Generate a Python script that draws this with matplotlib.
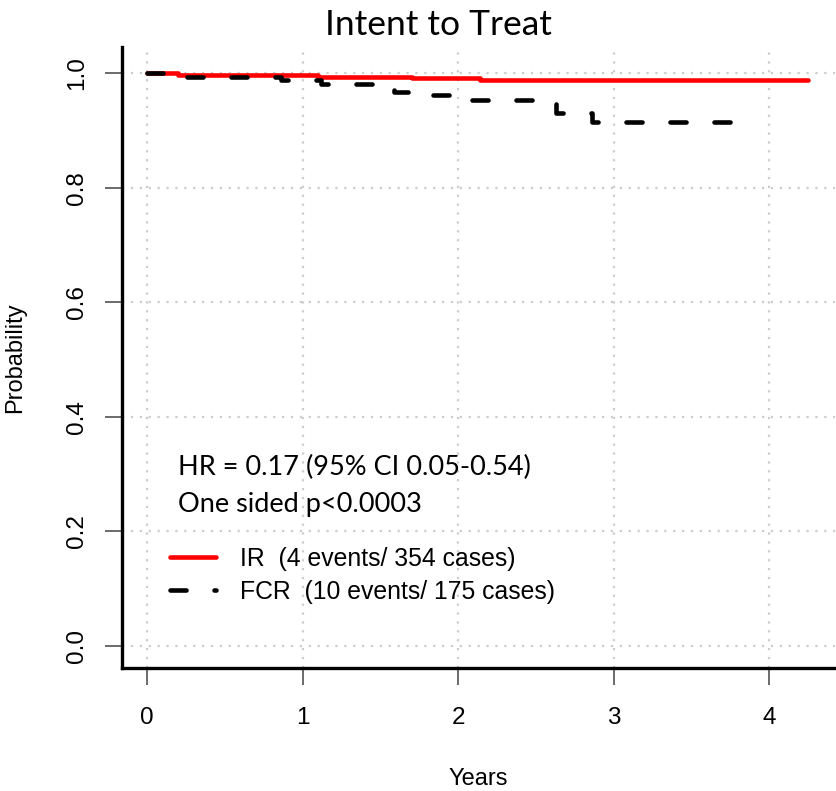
import matplotlib
matplotlib.use("Agg")
import matplotlib.pyplot as plt

# Kaplan-Meier step data
ir_time = [0, 0.20, 1.10, 1.70, 2.14, 4.25]
ir_surv = [1.0, 0.997, 0.994, 0.991, 0.988, 0.988]
fcr_time = [0, 0.19, 0.86, 1.12, 1.59, 1.70, 1.95, 2.63, 2.86, 3.93]
fcr_surv = [1.0, 0.994, 0.988, 0.981, 0.967, 0.963, 0.954, 0.930, 0.915, 0.915]

series_labels = ["IR  (4 events/ 354 cases)", "FCR  (10 events/ 175 cases)"]
x_ticks = [0, 1, 2, 3, 4]
y_ticks = [0.0, 0.2, 0.4, 0.6, 0.8, 1.0]
y_ticklabels = ["0.0", "0.2", "0.4", "0.6", "0.8", "1.0"]
stats_lines = ["HR = 0.17 (95% CI 0.05-0.54)", "One sided p<0.0003"]

plt.rcParams['font.family'] = ['Liberation Sans', 'DejaVu Sans']

fig = plt.figure(figsize=(8.36, 7.91), dpi=100)
ax = fig.add_axes([0.1459, 0.1555, 0.853, 0.7851])

# dotted grid at the ticks
for xv in x_ticks:
    ax.axvline(xv, color='#cccccc', linestyle=(0, (1, 3)), linewidth=1.6, zorder=0)
for yv in y_ticks:
    ax.axhline(yv, color='#cccccc', linestyle=(0, (1, 3)), linewidth=1.6, zorder=0)

ax.step(ir_time, ir_surv, where='post', color='#ff0000', linewidth=3.3,
        solid_capstyle='round', label=series_labels[0], zorder=2)
ax.step(fcr_time, fcr_surv, where='post', color='black', linewidth=3.3,
        linestyle=(0, (3.5, 6.1)), dash_capstyle='round', label=series_labels[1], zorder=3)

ax.set_xlim(-0.163, 4.425)
ax.set_ylim(-0.0384, 1.046)

ax.spines['top'].set_visible(False)
ax.spines['right'].set_visible(False)
ax.spines['left'].set_linewidth(2.4)
ax.spines['bottom'].set_linewidth(2.4)

ax.set_xticks(x_ticks)
ax.set_xticklabels([str(v) for v in x_ticks])
ax.set_yticks(y_ticks)
ax.set_yticklabels(y_ticklabels, rotation=90, va='center')
ax.tick_params(axis='both', direction='out', length=12, width=1.1, color='#444444',
               labelsize=17.5)
ax.tick_params(axis='x', pad=16)
ax.tick_params(axis='y', pad=12.5)

ax.set_xlabel("Years", fontsize=17)
ax.xaxis.set_label_coords(0.5, -0.161)
ax.set_ylabel("Probability", fontsize=17)
ax.yaxis.set_label_coords(-0.135, 0.5)

# HR annotation
for i, txt in enumerate(stats_lines):
    ax.text(0.0785, 0.3237 - i * 0.0612, txt, transform=ax.transAxes, fontsize=19.5,
            family=['Lato', 'DejaVu Sans'], va='center', ha='left')

leg = ax.legend(loc='upper left', bbox_to_anchor=(0.0537, 0.211), frameon=False,
                fontsize=17.8, handlelength=1.86, handletextpad=0.97,
                labelspacing=0.35, borderaxespad=0)

fig.text(438 / 836, 1 - 25 / 791, "Intent to Treat", fontsize=25.5,
         family=['Lato', 'DejaVu Sans'], ha='center', va='center')

fig.savefig("out.png", dpi=100)
